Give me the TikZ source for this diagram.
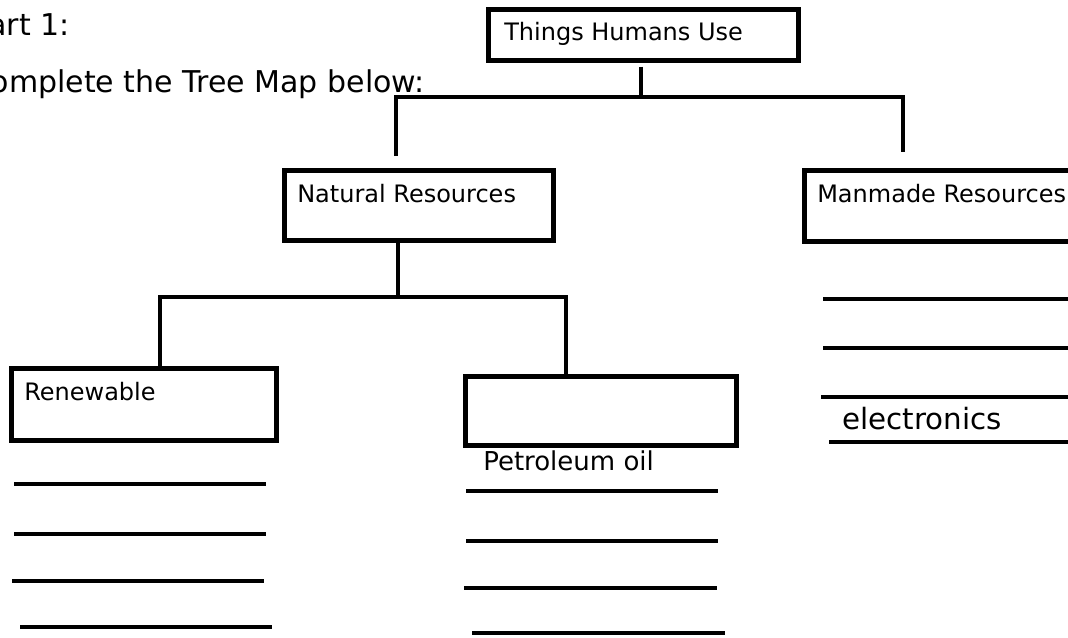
\documentclass[tikz,border=0pt]{standalone}
\usepackage{fontspec}
\setmainfont{DejaVu Sans}
\usetikzlibrary{positioning,calc}
\tikzset{
  box/.style={draw, rectangle, anchor=north west, inner sep=0pt},
  boxlabel/.style={anchor=north west, inner sep=0pt, xshift=9.75pt, yshift=-10.5pt,
                   font=\fontsize{18pt}{20pt}\selectfont},
  headtext/.style={anchor=base east, inner sep=0pt, font=\fontsize{22.5pt}{25pt}\selectfont},
  blank/.style={line cap=butt}
}

\begin{document}
\begin{tikzpicture}[x=0.75pt, y=-0.75pt, line width=3.4pt]

\useasboundingbox (0,0) rectangle (1068,637);
\clip (0,0) rectangle (1068,637);

\node [headtext] (part) at (72,35) {Part 1:};
\node [headtext] (task) at (427,92) {Complete the Tree Map below:};

\node [box, minimum width=232.5pt, minimum height=38.25pt,
       label={[boxlabel, xshift=2.25pt, yshift=0.5pt]north west:Things Humans Use}] (things) at (486,7) {};
\node [box, minimum width=201.75pt, minimum height=52.5pt,
       label={[boxlabel]north west:Natural Resources}] (natural) at (282,168) {};
\node [box, minimum width=207pt, minimum height=53.25pt,
       label={[boxlabel]north west:Manmade Resources}] (manmade) at (802,168) {};
\node [box, minimum width=198.75pt, minimum height=54pt,
       label={[boxlabel]north west:Renewable}] (renew) at (9,366) {};
\node [box, minimum width=203.25pt, minimum height=51.75pt] (nonrenew) at (463,374) {};

\node [anchor=base west, inner sep=0pt, font=\fontsize{19.5pt}{22pt}\selectfont] (oil) at (481,470) {Petroleum oil};
\node [anchor=base west, inner sep=0pt, font=\fontsize{22pt}{24pt}\selectfont] (elec) at (840,429) {electronics};

% tree branches
\coordinate (hub1) at (641,97);
\coordinate (natend) at (396,156);
\coordinate (manend) at (903,152);
\coordinate (hub2) at (398,297);
\coordinate (renx) at (160,0);
\coordinate (nonx) at (566,0);

\begin{scope}[line cap=butt]
\draw[shorten <=3pt] (things.south -| hub1) -- (hub1);
\draw (natend) |- (hub1) -| (manend);
\draw (natural.south -| hub2) -- (hub2);
\draw (renew.north -| renx) |- (hub2) -| (nonrenew.north -| nonx);
\end{scope}

% lines to fill in
\begin{scope}[blank]
\draw (14,484) -- (266,484);
\draw (14,534) -- (266,534);
\draw (12,581) -- (264,581);
\draw (20,627) -- (272,627);
\draw (466,491) -- (718,491);
\draw (466,541) -- (718,541);
\draw (464,588) -- (717,588);
\draw (472,633) -- (725,633);
\draw (823,299) -- (1070,299);
\draw (823,348) -- (1070,348);
\draw (821,397) -- (1070,397);
\draw (829,442) -- (1070,442);
\end{scope}

\end{tikzpicture}
\end{document}
